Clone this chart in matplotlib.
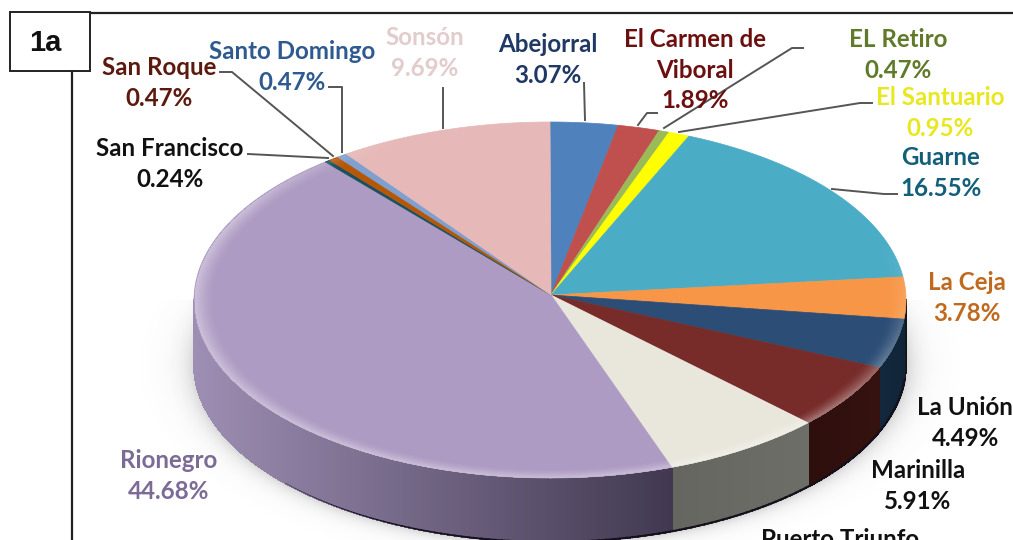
import numpy as np
import matplotlib
matplotlib.use('Agg')
import matplotlib.pyplot as plt
from matplotlib.colors import to_rgb

municipios = ['Abejorral', 'El Carmen de\nViboral', 'EL Retiro', 'El Santuario', 'Guarne', 'La Ceja',
              'La Unión', 'Marinilla', 'Puerto Triunfo', 'Rionegro', 'San Francisco', 'San Roque',
              'Santo Domingo', 'Sonsón']
porcentajes = [3.07, 1.89, 0.47, 0.95, 16.55, 3.78, 4.49, 5.91, 7.34, 44.68, 0.24, 0.47, 0.47, 9.69]

top_colors = ['#4f81bd', '#c0504d', '#9bbb59', '#ffff00', '#4bacc6', '#f79646', '#2c4d75',
              '#772c2a', '#e9e7dc', '#ae9bc3', '#17505f', '#b65708', '#7f9fcf', '#e6b9b8']
# colore del bordo laterale: lato destro e lato sinistro della fetta
wall_start = ['#000000'] * 5 + ['#1c1208', '#112538', '#35120f', '#6e6e68', '#413850',
                                '#9a8bb0', '#9a8bb0', '#9a8bb0', '#9a8bb0']
wall_end = ['#000000'] * 5 + ['#0d1a28', '#13283d', '#2d0f0d', '#666660', '#9d8eb3',
                              '#9a8bb0', '#9a8bb0', '#9a8bb0', '#9a8bb0']
text_colors = ['#1f3864', '#6b0f0f', '#5f7a28', '#e8e820', '#125f7a', '#bf6a1e', '#111111',
               '#111111', '#111111', '#7b6b96', '#111111', '#5c1a0e', '#2f5a90', '#e2cccc']
label_pos = [(548, 60), (695, 70), (898, 55), (940, 113), (941, 173), (967, 298), (965, 423),
             (918, 486), (840, 555), (169, 476), (170, 164), (159, 83), (292, 67), (425, 53)]
leaders = [
    [(584, 83), (585, 120)],
    [(657, 113), (647, 113), (638, 125)],
    [(803, 48), (792, 48), (664, 128)],
    [(872, 103), (860, 103), (679, 132)],
    [(897, 194), (884, 194), (832, 189)],
    [(248, 154), (328, 158)],
    [(220, 72), (232, 72), (333, 156)],
    [(329, 87), (342, 87), (342, 152)],
    [(443, 88), (443, 128)],
]

# geometria della torta in pixel
cx, cy = 550, 300
rx, ry = 356, 178
apex = (551, 295)
depth = 64


def edge(theta_deg, dy=0, scale=1.0):
    t = np.radians(theta_deg)
    return cx + scale * rx * np.sin(t), cy - scale * ry * np.cos(t) + dy


fig = plt.figure(figsize=(10.13, 5.4), dpi=100)
ax = fig.add_axes([0, 0, 1, 1])

bounds = np.concatenate([[0], np.cumsum(porcentajes)]) / sum(porcentajes) * 360

# ombra morbida attorno al bordo
yy, xx = np.mgrid[0:540, 0:1013]
rho = np.sqrt(((xx - cx) / rx) ** 2 + ((yy - cy) / ry) ** 2)
rho_low = np.sqrt(((xx - cx) / rx) ** 2 + ((yy - cy - depth) / ry) ** 2)
glow = np.where(rho_low > 1, 0.3 * np.exp(-(rho_low - 1) / 0.035), 0)
glow[yy < cy] = 0
glow_img = np.zeros((540, 1013, 4))
glow_img[..., :3] = 0.45
glow_img[..., 3] = glow
ax.imshow(glow_img, extent=(0, 1013, 540, 0), aspect='auto', zorder=1)

# bordo laterale, sfumato lungo x
for i in range(len(porcentajes)):
    a, b = max(bounds[i], 90), min(bounds[i + 1], 270)
    if b <= a:
        continue
    steps = np.linspace(a, b, max(int(b - a) * 2, 2) + 1)
    c0, c1 = np.array(to_rgb(wall_start[i])), np.array(to_rgb(wall_end[i]))
    xa, xb = edge(a)[0], edge(b)[0]
    for s0, s1 in zip(steps[:-1], steps[1:]):
        f = (edge((s0 + s1) / 2)[0] - xa) / (xb - xa)
        col = c0 + (c1 - c0) * f
        xs0, ys0 = edge(s0)
        xs1, ys1 = edge(s1)
        xb0, yb0 = edge(s0, depth)
        xb1, yb1 = edge(s1, depth)
        ax.fill([xs0, xs1, xb1, xb0], [ys0, ys1, yb1, yb0], color=col, lw=0.8,
                antialiased=False, zorder=2)

# linea scura sotto il bordo, assottigliata verso sinistra
arc = np.linspace(95, 228, 120)
for s0, s1 in zip(arc[:-1], arc[1:]):
    lw = np.interp(s0, [95, 190, 228], [1.6, 1.4, 0.2])
    ax.plot(*edge(np.array([s0, s1]), depth), color='#15101c', lw=lw, zorder=3)

# faccia superiore
for i, col in enumerate(top_colors):
    arc = np.linspace(bounds[i], bounds[i + 1], max(int(bounds[i + 1] - bounds[i]) * 2, 2) + 1)
    xs, ys = edge(arc)
    ax.fill(np.r_[apex[0], xs], np.r_[apex[1], ys], facecolor=col, edgecolor=col, lw=0.5, zorder=4)

# bisello chiaro sul bordo anteriore
theta = np.degrees(np.arctan2(xx - cx, -(yy - cy) * rx / ry)) % 360
weight = np.interp(theta, [70, 125, 300, 335], [0, 1, 1, 0])
band = np.clip((rho - 0.945) / 0.05, 0, 1) ** 1.5
bevel = np.where(rho <= 1.0, 0.34 * band * weight, 0)
bevel_img = np.ones((540, 1013, 4))
bevel_img[..., 3] = bevel
ax.imshow(bevel_img, extent=(0, 1013, 540, 0), aspect='auto', zorder=5)
ax.set_xlim(0, 1013)
ax.set_ylim(540, 0)
ax.axis('off')

# linee guida
for pts in leaders:
    p = np.array(pts)
    ax.plot(p[:, 0], p[:, 1], color='#555555', lw=1.4, zorder=6)

# etichette
for name, val, pos, col in zip(municipios, porcentajes, label_pos, text_colors):
    ax.text(pos[0], pos[1], f'{name}\n{val:.2f}%', color=col, ha='center', va='center',
            family='Lato', weight='bold', fontsize=17.4, linespacing=1.38, zorder=7)

# cornice e riquadro
ax.plot([90, 1013], [13, 13], color='#222222', lw=1.6, zorder=7)
ax.plot([72, 72], [71, 540], color='#222222', lw=1.6, zorder=7)
ax.fill([10, 90, 90, 10, 10], [12, 12, 71, 71, 12], facecolor='white', edgecolor='#222222', lw=1.4, zorder=7)
ax.text(45, 43, '1a', ha='center', va='center', family='Liberation Sans', weight='bold',
        fontsize=21, color='#111111', zorder=8)

fig.savefig('out.png', dpi=100)
